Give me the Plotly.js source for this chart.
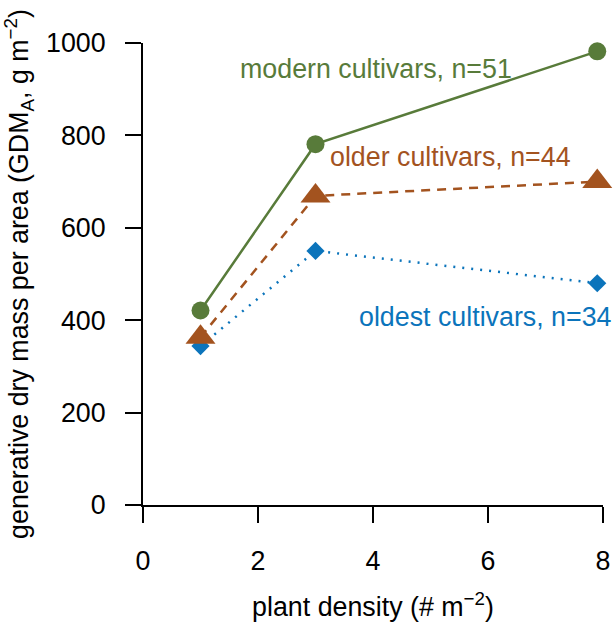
<!DOCTYPE html>
<html>
<head>
<meta charset="utf-8">
<script src="https://cdn.plot.ly/plotly-3.0.1.min.js"></script>
<style>html,body{margin:0;padding:0;background:#fff;}</style>
</head>
<body>
<div id="chart" style="width:614px;height:629px;"></div>
<script>
// Data
const density = [1, 3, 7.9];
const modern = [421, 781, 982];
const older = [363, 669, 700];
const oldest = [344, 550, 480];
const seriesLabels = ["oldest cultivars, n=34", "older cultivars, n=44", "modern cultivars, n=51"];
const xTicks = [0, 2, 4, 6, 8];
const yTicks = [0, 200, 400, 600, 800, 1000];

const cGreen = "#587b3a";
const cBrown = "#a3531f";
const cBlue = "#0b74bb";
const FONT = "Liberation Sans, Arial, sans-serif";
const FS = 26.8;

const traces = [
  {x: density, y: oldest, mode: "lines+markers", name: seriesLabels[0], cliponaxis: false,
   line: {color: cBlue, width: 2.5, dash: "2px,7px"},
   marker: {symbol: "diamond", size: 14, color: cBlue}},
  {x: density, y: older, mode: "lines+markers", name: seriesLabels[1], cliponaxis: false,
   line: {color: cBrown, width: 2.5, dash: "9px,7px"},
   marker: {symbol: "triangle-up", size: 26, color: cBrown}},
  {x: density, y: modern, mode: "lines+markers", name: seriesLabels[2], cliponaxis: false,
   line: {color: cGreen, width: 2.5},
   marker: {symbol: "circle", size: 18, color: cGreen}}
];

const layout = {
  width: 614, height: 629,
  margin: {l: 143, r: 11, t: 43, b: 124},
  paper_bgcolor: "#fff", plot_bgcolor: "#fff",
  showlegend: false,
  font: {family: FONT, size: FS, color: "#000"},
  xaxis: {
    range: [0, 8], tickvals: xTicks, ticktext: xTicks.map(String),
    showgrid: false, zeroline: false, showline: true, linecolor: "#000", linewidth: 2,
    ticks: "outside", ticklen: 16, tickwidth: 2, tickcolor: "#000",
    ticklabelstandoff: 15,
    tickfont: {family: FONT, size: FS, color: "#000"},
    title: {text: "plant density (# m<sup>\u22122</sup>)", font: {family: FONT, size: FS, color: "#000"}, standoff: 22}
  },
  yaxis: {
    range: [0, 1000], tickvals: yTicks, ticktext: yTicks.map(String),
    showgrid: false, zeroline: false, showline: true, linecolor: "#000", linewidth: 2,
    ticks: "outside", ticklen: 16, tickwidth: 2, tickcolor: "#000",
    ticklabelstandoff: 14,
    tickfont: {family: FONT, size: FS, color: "#000"},
    title: {text: "generative dry mass per area (GDM<sub>A</sub>, g m<sup>\u22122</sup>)", font: {family: FONT, size: FS, color: "#000"}, standoff: 12}
  },
  annotations: [
    {x: 1.66, y: 943, xref: "x", yref: "y", text: seriesLabels[2], showarrow: false,
     xanchor: "left", yanchor: "middle", font: {family: FONT, size: FS, color: cGreen}},
    {x: 3.21, y: 753, xref: "x", yref: "y", text: seriesLabels[1], showarrow: false,
     xanchor: "left", yanchor: "middle", font: {family: FONT, size: FS, color: cBrown}},
    {x: 8, y: 407, xref: "x", yref: "y", text: seriesLabels[0], showarrow: false, xshift: 11,
     xanchor: "right", yanchor: "middle", font: {family: FONT, size: FS, color: cBlue}}
  ]
};

Plotly.newPlot("chart", traces, layout, {displayModeBar: false, staticPlot: true});
</script>
</body>
</html>
